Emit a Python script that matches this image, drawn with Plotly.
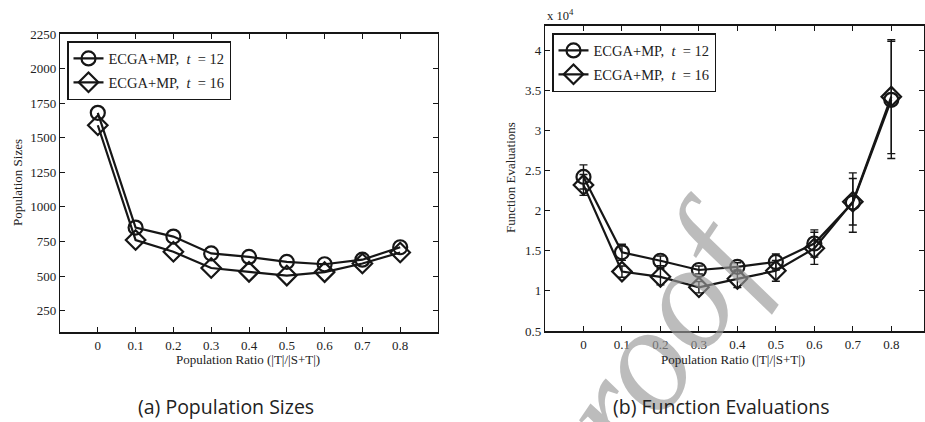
import plotly.graph_objects as go

# ---- data ----
ratios = [0, 0.1, 0.2, 0.3, 0.4, 0.5, 0.6, 0.7, 0.8]
x_tick_labels = ["0", "0.1", "0.2", "0.3", "0.4", "0.5", "0.6", "0.7", "0.8"]

pop_t12 = [1680, 850, 785, 663, 638, 602, 585, 618, 708]
pop_t16 = [1590, 760, 675, 558, 530, 503, 528, 590, 670]
pop_y_ticks = [250, 500, 750, 1000, 1250, 1500, 1750, 2000, 2250]

fe_t12 = [24200, 14800, 13750, 12600, 13000, 13600, 15900, 21000, 33800]
fe_t12_err = [1500, 1000, 600, 500, 500, 1000, 1700, 3700, 7300]
fe_t16 = [23200, 12400, 11750, 10450, 11500, 12500, 15300, 21100, 34200]
fe_t16_err = [1300, 700, 1000, 700, 1100, 1300, 2000, 2900, 7100]
fe_y_ticks = [5000, 10000, 15000, 20000, 25000, 30000, 35000, 40000]
fe_y_tick_labels = ["0.5", "1", "1.5", "2", "2.5", "3", "3.5", "4"]

NB = "\u00a0"
series_names = [f"ECGA+MP,{NB}{NB}<i>t</i>{NB}{NB}={NB}12", f"ECGA+MP,{NB}{NB}<i>t</i>{NB}{NB}={NB}16"]

W, H = 925, 422
INK = "#161616"
SERIF = "Liberation Serif"


def px(x):
    return x / W


def py(y):
    return 1 - y / H


fig = go.Figure()

line_style = dict(color=INK, width=2.2)
err_style = dict(type="data", color=INK, thickness=1.4, width=4)

# Left panel
fig.add_trace(go.Scatter(
    x=ratios, y=pop_t12, mode="lines+markers", name=series_names[0],
    line=line_style, legendgroup="a1", legend="legend",
    marker=dict(symbol="circle-open", size=14, color=INK, line=dict(width=2.2, color=INK)),
    xaxis="x", yaxis="y"))
fig.add_trace(go.Scatter(
    x=ratios, y=pop_t16, mode="lines+markers", name=series_names[1],
    line=line_style, legendgroup="a2", legend="legend",
    marker=dict(symbol="diamond-open", size=15, color=INK, line=dict(width=2.2, color=INK)),
    xaxis="x", yaxis="y"))

# Right panel
fig.add_trace(go.Scatter(
    x=ratios, y=fe_t12, mode="lines+markers", name=series_names[0],
    line=line_style, legendgroup="b1", legend="legend2",
    error_y=dict(array=fe_t12_err, **err_style),
    marker=dict(symbol="circle-open", size=14, color=INK, line=dict(width=2.2, color=INK)),
    xaxis="x2", yaxis="y2"))
fig.add_trace(go.Scatter(
    x=ratios, y=fe_t16, mode="lines+markers", name=series_names[1],
    line=line_style, legendgroup="b2", legend="legend2",
    error_y=dict(array=fe_t16_err, **err_style),
    marker=dict(symbol="diamond-open", size=15, color=INK, line=dict(width=2.2, color=INK)),
    xaxis="x2", yaxis="y2"))

tick_font = dict(family=SERIF, size=13, color="#222")

common_x = dict(
    tickvals=ratios, ticktext=x_tick_labels, ticks="inside", ticklen=5,
    tickcolor=INK, showline=True, linecolor=INK, linewidth=2, mirror="ticks",
    showgrid=False, zeroline=False, tickfont=tick_font, automargin=False,
)
common_y = dict(
    ticks="inside", ticklen=5, tickcolor=INK, showline=True, linecolor=INK,
    linewidth=1.2, mirror="ticks", showgrid=False, zeroline=False, tickfont=tick_font,
    automargin=False,
)

legend_style = dict(xanchor="left", yanchor="top", bordercolor=INK, borderwidth=1.5,
                    bgcolor="white", font=dict(family=SERIF, size=14.5, color="#222"),
                    tracegroupgap=2, traceorder="grouped")

fig.update_layout(
    width=W, height=H,
    margin=dict(l=0, r=0, t=0, b=0, pad=0, autoexpand=False),
    paper_bgcolor="white", plot_bgcolor="white",
    xaxis=dict(domain=[px(60), px(438)], range=[-0.1, 0.9], anchor="y", **common_x),
    yaxis=dict(domain=[py(332), py(34)], range=[95, 2250], anchor="x",
               tickvals=pop_y_ticks, **common_y),
    xaxis2=dict(domain=[px(545), px(924)], range=[-0.1, 0.885], anchor="y2", **common_x),
    yaxis2=dict(domain=[py(331), py(26)], range=[5000, 43000], anchor="x2",
                tickvals=fe_y_ticks, ticktext=fe_y_tick_labels, **common_y),
    legend=dict(x=px(67), y=py(41), **legend_style),
    legend2=dict(x=px(552), y=py(33), **legend_style),
    showlegend=True,
)


def note(text, x, y, size=13, family=SERIF, angle=0, **kw):
    d = dict(text=text, x=px(x), y=py(y), xref="paper", yref="paper",
             xanchor="center", yanchor="middle", showarrow=False, textangle=angle,
             font=dict(family=family, size=size, color=kw.pop("color", "#222")))
    d.update(kw)
    return d


ann = [
    # watermark (drawn faintly)
    note("<i>Proof</i>", 636, 368, size=150, angle=-56, opacity=0.65, color="#999999"),
    # axis titles
    note("Population Ratio (|T|/|S+T|)", 248, 359),
    note("Population Ratio (|T|/|S+T|)", 733, 359),
    note("Population Sizes", 17, 183, angle=-90),
    note("Function Evaluations", 510, 178, angle=-90),
    note("x 10<sup>4</sup>", 560, 15, size=12.5),
    # captions
    note("(a) Population Sizes", 226, 406, size=19.5, family="Open Sans"),
    note("(b) Function Evaluations", 721, 406, size=19.5, family="Open Sans"),
]
fig.update_layout(annotations=ann)

fig.write_html("out.html", config={"displayModeBar": False},
               post_script="document.body.style.margin='0px';document.body.style.overflow='hidden';")
